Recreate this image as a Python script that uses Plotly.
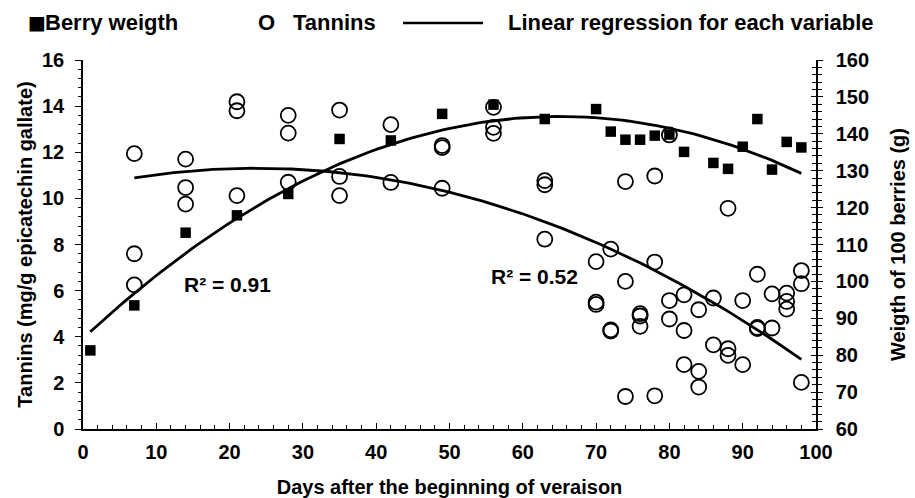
import numpy as np
import plotly.graph_objects as go

# ---------------- data ----------------
days_berry = [1, 7, 14, 21, 28, 35, 42, 49, 56, 63, 70, 72, 74, 76, 78, 80, 82, 86, 88, 90, 92, 94, 96, 98]
berry_weight = [81.3, 93.5, 113.2, 117.9, 123.7, 138.6, 138.2, 145.4, 147.9, 144.0, 146.7, 140.6,
                138.4, 138.4, 139.5, 139.8, 135.1, 132.1, 130.5, 136.5, 144.0, 130.3, 137.8, 136.3]

days_tannin = [7, 7, 7, 14, 14, 14, 21, 21, 21, 28, 28, 28, 35, 35, 35, 42, 42, 49, 49, 49,
               56, 56, 56, 63, 63, 63, 70, 70, 70, 72, 72, 72, 74, 74, 74, 76, 76, 76,
               78, 78, 78, 80, 80, 80, 82, 82, 82, 84, 84, 84, 86, 86, 88, 88, 88, 90, 90,
               92, 92, 92, 94, 94, 96, 96, 96, 98, 98, 98]
tannins = [11.94, 7.60, 6.25, 11.70, 10.47, 9.75, 14.19, 13.80, 10.12, 13.60, 12.83, 10.70,
           13.83, 10.95, 10.12, 13.20, 10.69, 12.29, 12.20, 10.44, 13.95, 13.08, 12.82,
           10.77, 10.59, 8.23, 7.26, 5.50, 5.40, 7.80, 4.30, 4.25, 10.73, 6.40, 1.41,
           5.00, 4.90, 4.45, 10.97, 7.24, 1.44, 12.75, 5.57, 4.77, 5.82, 4.27, 2.79,
           5.17, 2.50, 1.82, 5.68, 3.65, 9.57, 3.48, 3.19, 5.57, 2.79, 6.71, 4.40, 4.35,
           5.86, 4.38, 5.89, 5.53, 5.20, 6.87, 6.30, 2.02]

r2_labels = ["R² = 0.91", "R² = 0.52"]
r2_pos_x = [19.7, 61.6]
r2_pos_y = [6.25, 6.6]

x_ticks = list(range(0, 101, 10))
y_ticks = list(range(0, 17, 2))
y2_ticks = list(range(60, 161, 10))

# ---------------- regression curves (2nd order fit) ----------------
cb = np.polyfit(days_berry, berry_weight, 2)
xb = np.linspace(min(days_berry), max(days_berry), 120)
yb = np.polyval(cb, xb)

ct = np.polyfit(days_tannin, tannins, 2)
xt = np.linspace(min(days_tannin), max(days_tannin), 120)
yt = np.polyval(ct, xt)

FONT = "Liberation Sans, Arial, sans-serif"
BLK = "#000000"

fig = go.Figure()
fig.add_trace(go.Scatter(x=xt, y=yt, mode="lines", line=dict(color=BLK, width=2.8),
                         yaxis="y", showlegend=False, hoverinfo="skip"))
fig.add_trace(go.Scatter(x=days_tannin, y=tannins, mode="markers",
                         marker=dict(symbol="circle-open", size=15, color=BLK,
                                     line=dict(color=BLK, width=1.8)),
                         yaxis="y", showlegend=False, name="Tannins"))
fig.add_trace(go.Scatter(x=xb, y=yb, mode="lines", line=dict(color=BLK, width=2.8),
                         yaxis="y2", showlegend=False, hoverinfo="skip"))
fig.add_trace(go.Scatter(x=days_berry, y=berry_weight, mode="markers",
                         marker=dict(symbol="square", size=10.5, color=BLK),
                         yaxis="y2", showlegend=False, name="Berry weigth"))
fig.add_trace(go.Scatter(x=[], y=[], yaxis="y3", showlegend=False, hoverinfo="skip"))

tickfont = dict(family=FONT, size=20, color=BLK, weight="bold")
titlefont = dict(family=FONT, size=20, color=BLK, weight="bold")

fig.update_layout(
    width=915, height=498,
    margin=dict(l=83, r=99, t=60, b=69),
    paper_bgcolor="white", plot_bgcolor="white",
    font=dict(family=FONT, color=BLK),
    xaxis=dict(range=[0, 100], tickvals=x_ticks, showgrid=False, zeroline=False, automargin=False,
               showline=True, linecolor=BLK, linewidth=1.5,
               ticks="inside", ticklen=6, tickwidth=1.2, tickcolor=BLK,
               minor=dict(ticks="inside", ticklen=4, dtick=2, tickcolor=BLK, tickwidth=1),
               tickfont=tickfont, ticklabelstandoff=4,
               title=dict(text="Days after the beginning of veraison", font=titlefont, standoff=18)),
    yaxis=dict(range=[0, 16], tickvals=y_ticks, showgrid=False, zeroline=False, automargin=False,
               showline=True, linecolor=BLK, linewidth=1.5,
               ticks="outside", ticklen=6, tickwidth=1.2, tickcolor=BLK,
               minor=dict(ticks="outside", ticklen=3.5, dtick=0.4, tickcolor=BLK, tickwidth=1),
               tickfont=tickfont, ticklabelstandoff=7,
               title=dict(text="Tannins (mg/g epicatechin gallate)", font=titlefont, standoff=4)),
    yaxis2=dict(range=[60, 160], tickvals=y2_ticks, overlaying="y", side="right", anchor="x",
                automargin=False,
                showgrid=False, zeroline=False, showline=True, linecolor=BLK, linewidth=1.5,
                ticks="outside", ticklen=5, tickwidth=1.2, tickcolor=BLK,
                minor=dict(ticks="outside", ticklen=4, dtick=2, tickcolor=BLK, tickwidth=1),
                tickfont=tickfont, ticklabelstandoff=9,
                title=dict(text="Weigth of 100 berries (g)", font=titlefont, standoff=23)),
    yaxis3=dict(range=[60, 160], tickvals=y2_ticks, overlaying="y", side="right", anchor="x",
                automargin=False,
                showgrid=False, zeroline=False, showline=False, showticklabels=False,
                ticks="inside", ticklen=5, tickwidth=1.2, tickcolor=BLK,
                minor=dict(ticks="inside", ticklen=4, dtick=2, tickcolor=BLK, tickwidth=1)),
)

# R² labels
for lab, px, py in zip(r2_labels, r2_pos_x, r2_pos_y):
    fig.add_annotation(x=px, y=py, xref="x", yref="y", text=lab, showarrow=False,
                       font=dict(family=FONT, size=21, color=BLK, weight="bold"))

# Legend (text + line), positioned in paper coordinates
def px_to_paper_x(p):
    return (p - 83) / 733.0

def py_to_paper_y(p):
    return (429.0 - p) / 369.0

legend_font = dict(family=FONT, size=22, color=BLK, weight="bold")
fig.add_annotation(x=px_to_paper_x(26), y=py_to_paper_y(22), xref="paper", yref="paper",
                   text="■", showarrow=False, xanchor="left", yanchor="middle",
                   font=dict(family="DejaVu Sans", size=19, color=BLK))
fig.add_annotation(x=px_to_paper_x(43), y=py_to_paper_y(22), xref="paper", yref="paper",
                   text="Berry weigth", showarrow=False, xanchor="left", yanchor="middle",
                   font=legend_font)
fig.add_annotation(x=px_to_paper_x(256), y=py_to_paper_y(22), xref="paper", yref="paper",
                   text="O", showarrow=False, xanchor="left", yanchor="middle",
                   font=legend_font)
fig.add_annotation(x=px_to_paper_x(291), y=py_to_paper_y(22), xref="paper", yref="paper",
                   text="Tannins", showarrow=False, xanchor="left", yanchor="middle",
                   font=legend_font)
fig.add_annotation(x=px_to_paper_x(506), y=py_to_paper_y(22), xref="paper", yref="paper",
                   text="Linear regression for each variable", showarrow=False,
                   xanchor="left", yanchor="middle", font=legend_font)
fig.add_shape(type="line", xref="paper", yref="paper",
              x0=px_to_paper_x(403), x1=px_to_paper_x(483),
              y0=py_to_paper_y(23), y1=py_to_paper_y(23),
              line=dict(color=BLK, width=2.5))

fig.write_html("out.html", config={"displayModeBar": False},
               post_script="document.body.style.margin='0';document.body.style.overflow='hidden';")
